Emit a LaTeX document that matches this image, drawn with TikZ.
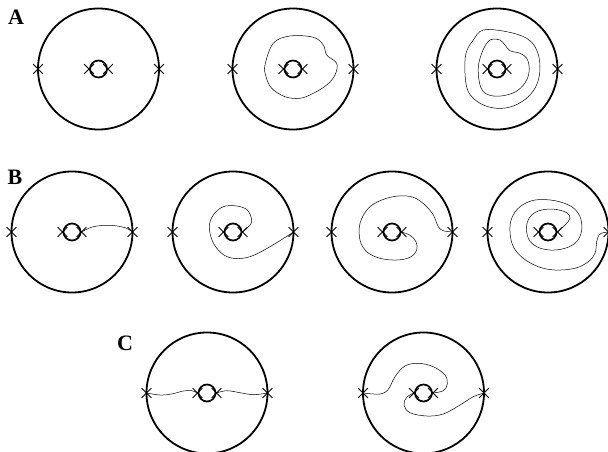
\documentclass[tikz,border=0pt]{standalone}
\usepackage{fontspec}
\setmainfont{Liberation Serif}
\usetikzlibrary{shapes.misc}

\tikzset{
  rim/.style={line width=1.8pt},
  hole/.style={line width=1.7pt},
  puncture/.style={draw, cross out, line width=0.8pt, minimum size=9pt, inner sep=0pt},
  strand/.style={line width=0.5pt},
  panel/.style={font=\bfseries\fontsize{22}{22}\selectfont, inner sep=0pt}
}

\begin{document}
\begin{tikzpicture}[x=1pt, y=-1pt]
\useasboundingbox (0,0) rectangle (608,452);

% panel letters
\node[panel] (labA) at (16,17) {A};
\node[panel] (labB) at (15,177) {B};
\node[panel] (labC) at (125,343) {C};

% disks, each with its hole and four punctures
\foreach \d/\cx/\cy in {a1/98.5/69, a2/293/69, a3/497/69,
                        b1/72/232, b2/233/232, b3/392/232, b4/548/232,
                        c1/207/393, c2/423.5/393} {
  \coordinate (\d) at (\cx,\cy);
  \draw[rim] (\d) circle[radius=60.5pt];
  \draw[hole] (\d) circle[radius=8.5pt];
  \node[puncture] (\d-L) at ([xshift=-60.5pt]\d) {};
  \node[puncture] (\d-l) at ([xshift=-9.5pt]\d) {};
  \node[puncture] (\d-r) at ([xshift=9.5pt]\d) {};
  \node[puncture] (\d-R) at ([xshift=60.5pt]\d) {};
}

% row A: closed loops round the hole
\begin{scope}[shift={(a2)}]
\draw[strand] plot[smooth cycle, tension=0.6] coordinates {(-28,-4) (-19.7,-25.7) (-3,-33) (20.3,-31.7) (30.3,-24) (33.7,-14) (43.7,-5.7) (42,6) (33.7,16) (20.3,24.3) (7,29.3) (-8,27.7) (-21.3,19.3) (-27,7.7)};
\end{scope}
\begin{scope}[shift={(a3)}]
\draw[strand] plot[smooth cycle, tension=0.6] coordinates {(-13.7,-39) (9.7,-37.3) (29.7,-30.7) (39.7,-19) (43,-2.3) (40.3,14.3) (31.3,27.7) (16.3,37) (-0.3,39.3) (-17,34.3) (-28.7,22.7) (-32,4.3) (-31,-15.7) (-23.7,-29)};
\draw[strand] plot[smooth cycle, tension=0.6] coordinates {(-5.3,-29.7) (3,-29) (8,-24) (13,-18.3) (23,-15.7) (29.7,-10.7) (32.3,-0.7) (29.7,11) (21.3,21) (9.7,26) (-3.7,27) (-13.7,22.7) (-17.7,12.7) (-18.7,-2.3) (-15.3,-15.7) (-10.3,-25.7)};
\end{scope}

% row B: arcs from the hole out to the rim
\begin{scope}[shift={(b1)}]
\draw[strand] plot[smooth, tension=0.6] coordinates {(b1-r.center) (21.3,-5.3) (38,-6.7) (53,-4.3) (b1-R.center)};
\end{scope}
\begin{scope}[shift={(b2)}]
\draw[strand] plot[smooth, tension=0.6] coordinates {(b2-r.center) (16.3,-6) (18.7,-12) (14.3,-22) (3.7,-26) (-9.7,-25.3) (-19.7,-17) (-23.7,-5.3) (-20.3,9.7) (-11.3,21.3) (0.3,26.3) (17,24.7) (37,14.7) (b2-R.center)};
\end{scope}
\begin{scope}[shift={(b3)}]
\draw[strand] plot[smooth, tension=0.6] coordinates {(b3-r.center) (18,3.3) (24,9.7) (24.7,18) (18,25.3) (4.7,28) (-12,26.3) (-25.3,19.7) (-32,8) (-32,-8.7) (-23.7,-23.7) (-10.3,-32) (6.3,-36) (21.3,-34.7) (33,-27) (41.3,-17) (46.3,-5.3) (51.3,-1.3) (b3-R.center)};
\end{scope}
\begin{scope}[shift={(b4)}]
\draw[strand] plot[smooth, tension=0.6] coordinates {(b4-r.center) (17,-7) (22,-13.7) (18.7,-19.3) (7,-22.7) (-6.3,-22) (-16.3,-17) (-21.3,-7) (-19.7,6.3) (-11.3,14.7) (2,18) (17,16.3) (28.7,9.7) (33.7,-2) (32,-15.3) (23.7,-25.3) (7,-31.3) (-13,-32) (-28,-25.3) (-36.3,-13.7) (-38,-0.3) (-34.7,14.7) (-24.7,26.3) (-9.7,34.7) (7,38) (27,36.3) (40.3,29.7) (47,21.3) (48.7,9.7) (51,3) (55.3,0.7) (b4-R.center)};
\end{scope}

% row C: pairs of arcs
\begin{scope}[shift={(c1)}]
\draw[strand] plot[smooth, tension=0.6] coordinates {(c1-L.center) (-47,2) (-35.3,1) (-23.7,-2) (-15.3,-2.3) (c1-l.center)};
\draw[strand] plot[smooth, tension=0.6] coordinates {(c1-r.center) (19.7,-2.3) (33,-0.3) (46.3,1.7) (c1-R.center)};
\end{scope}
\begin{scope}[shift={(c2)}]
\draw[strand] plot[smooth, tension=0.6] coordinates {(c2-L.center) (-43.5,1) (-35.2,-3.7) (-28.5,-16.3) (-18.5,-27) (-5.2,-29.7) (9.8,-26.3) (21.5,-18) (23.8,-9) (19.8,-2.3) (c2-r.center)};
\draw[strand] plot[smooth, tension=0.6] coordinates {(c2-l.center) (-16.8,4.3) (-19.5,12) (-13.5,19.7) (3.2,23) (19.8,21) (36.5,12) (49.8,3.7) (c2-R.center)};
\end{scope}

\end{tikzpicture}
\end{document}
